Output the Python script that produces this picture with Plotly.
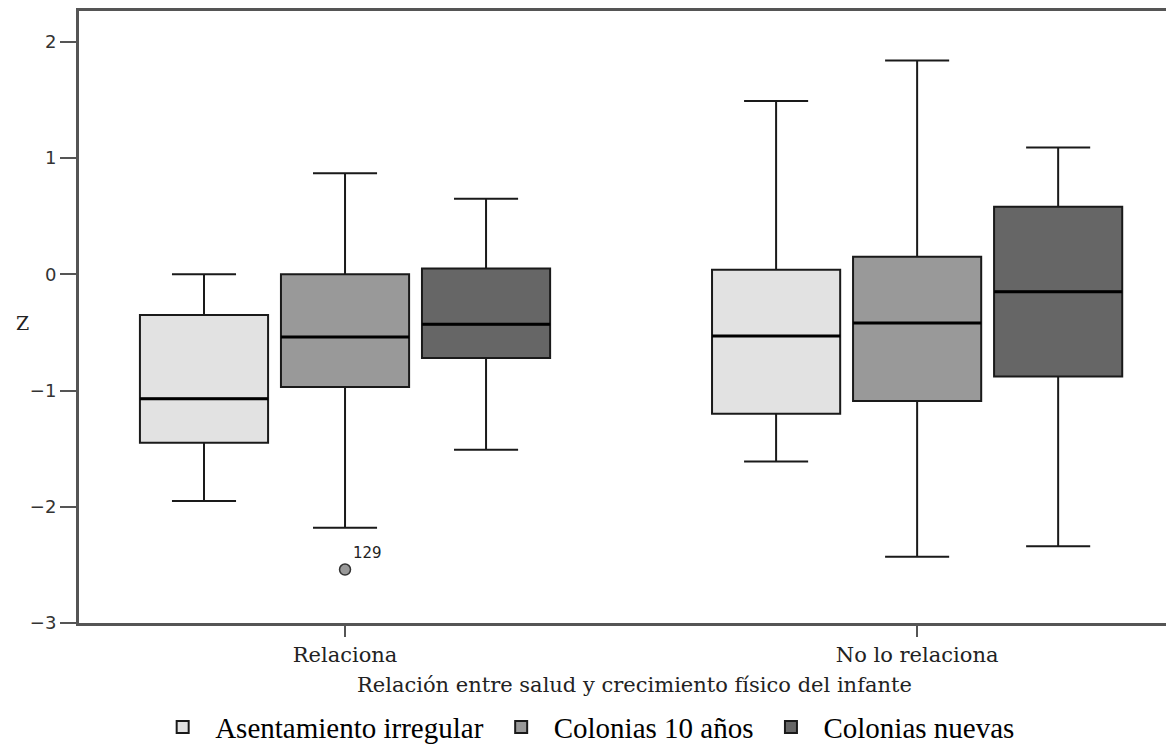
import plotly.graph_objects as go

# ---- data ----
categories = ["Relaciona", "No lo relaciona"]
series = ["Asentamiento irregular", "Colonias 10 años", "Colonias nuevas"]

lower = {
    "Asentamiento irregular": [-1.95, -1.61],
    "Colonias 10 años": [-2.18, -2.43],
    "Colonias nuevas": [-1.51, -2.34],
}
q1 = {
    "Asentamiento irregular": [-1.45, -1.20],
    "Colonias 10 años": [-0.97, -1.09],
    "Colonias nuevas": [-0.72, -0.88],
}
median = {
    "Asentamiento irregular": [-1.07, -0.53],
    "Colonias 10 años": [-0.54, -0.42],
    "Colonias nuevas": [-0.43, -0.15],
}
q3 = {
    "Asentamiento irregular": [-0.35, 0.04],
    "Colonias 10 años": [0.00, 0.15],
    "Colonias nuevas": [0.05, 0.58],
}
upper = {
    "Asentamiento irregular": [0.00, 1.49],
    "Colonias 10 años": [0.87, 1.84],
    "Colonias nuevas": [0.65, 1.09],
}
outlier_series = "Colonias 10 años"
outlier_category = "Relaciona"
outlier_value = [-2.54]
outlier_label = ["129"]

# ---- style / layout ----
fills = {
    "Asentamiento irregular": "#e2e2e2",
    "Colonias 10 años": "#999999",
    "Colonias nuevas": "#666666",
}
offsets = {"Asentamiento irregular": -0.2465, "Colonias 10 años": 0.0, "Colonias nuevas": 0.2465}
box_width = 0.224

fig = go.Figure()
for s in series:
    xs = [i + offsets[s] for i in range(len(categories))]
    fig.add_trace(go.Box(
        name=s,
        x=xs,
        q1=q1[s], median=median[s], q3=q3[s],
        lowerfence=lower[s], upperfence=upper[s],
        width=box_width,
        whiskerwidth=0.5,
        fillcolor=fills[s],
        line=dict(color="#1a1a1a", width=2),
        boxpoints=False,
        hoverinfo="y",
    ))
    # thicker median line (degenerate box at the median)
    fig.add_trace(go.Box(
        name=s + " (mediana)",
        x=xs,
        q1=median[s], median=median[s], q3=median[s],
        lowerfence=median[s], upperfence=median[s],
        width=box_width,
        whiskerwidth=0,
        fillcolor="rgba(0,0,0,0)",
        line=dict(color="#000000", width=3),
        boxpoints=False,
        showlegend=False,
        hoverinfo="skip",
    ))

ox = [categories.index(outlier_category) + offsets[outlier_series]]
fig.add_trace(go.Scatter(
    x=ox, y=outlier_value, mode="markers+text",
    text=outlier_label, textposition="top right",
    textfont=dict(family="DejaVu Sans", size=15, color="#222"),
    marker=dict(size=11, color=fills[outlier_series], line=dict(color="#333", width=1.5)),
    showlegend=False, hoverinfo="y",
))

# the page body has an 8px margin, so the figure is shrunk by 8px to fit
fig.update_layout(
    width=1166, height=745,
    margin=dict(l=71, r=0, t=3, b=130),
    paper_bgcolor="white", plot_bgcolor="white",
    boxmode="overlay",
    showlegend=True,
    legend=dict(
        orientation="h", x=0.065, xanchor="left", y=-0.170, yanchor="middle",
        font=dict(family="Liberation Serif", size=29, color="#000"),
        itemwidth=55, tracegroupgap=0,
    ),
    xaxis=dict(
        range=[-0.465, 1.449],
        tickmode="array", tickvals=list(range(len(categories))), ticktext=categories,
        showgrid=False, zeroline=False,
        showline=True, linecolor="#555", linewidth=3, mirror=True,
        ticks="outside", ticklen=11, tickwidth=2, tickcolor="#555",
        tickfont=dict(family="DejaVu Serif", size=21, color="#222"),
    ),
    yaxis=dict(
        range=[-3, 2.265],
        tickvals=[-3, -2, -1, 0, 1, 2],
        showgrid=False, zeroline=False,
        showline=True, linecolor="#555", linewidth=3,
        ticks="outside", ticklen=16, tickwidth=2, tickcolor="#555",
        tickfont=dict(family="DejaVu Sans", size=18, color="#333"),
    ),
    annotations=[
        dict(text="Relación entre salud y crecimiento físico del infante",
             xref="paper", yref="paper", x=0.507, y=-0.101,
             xanchor="center", yanchor="middle", showarrow=False,
             font=dict(family="DejaVu Serif", size=21, color="#222")),
        dict(text="Z", xref="paper", yref="paper", x=-0.052, y=0.49,
             xanchor="center", yanchor="middle", showarrow=False,
             font=dict(family="DejaVu Serif", size=19, color="#222")),
    ],
)

fig.write_html("out.html")
